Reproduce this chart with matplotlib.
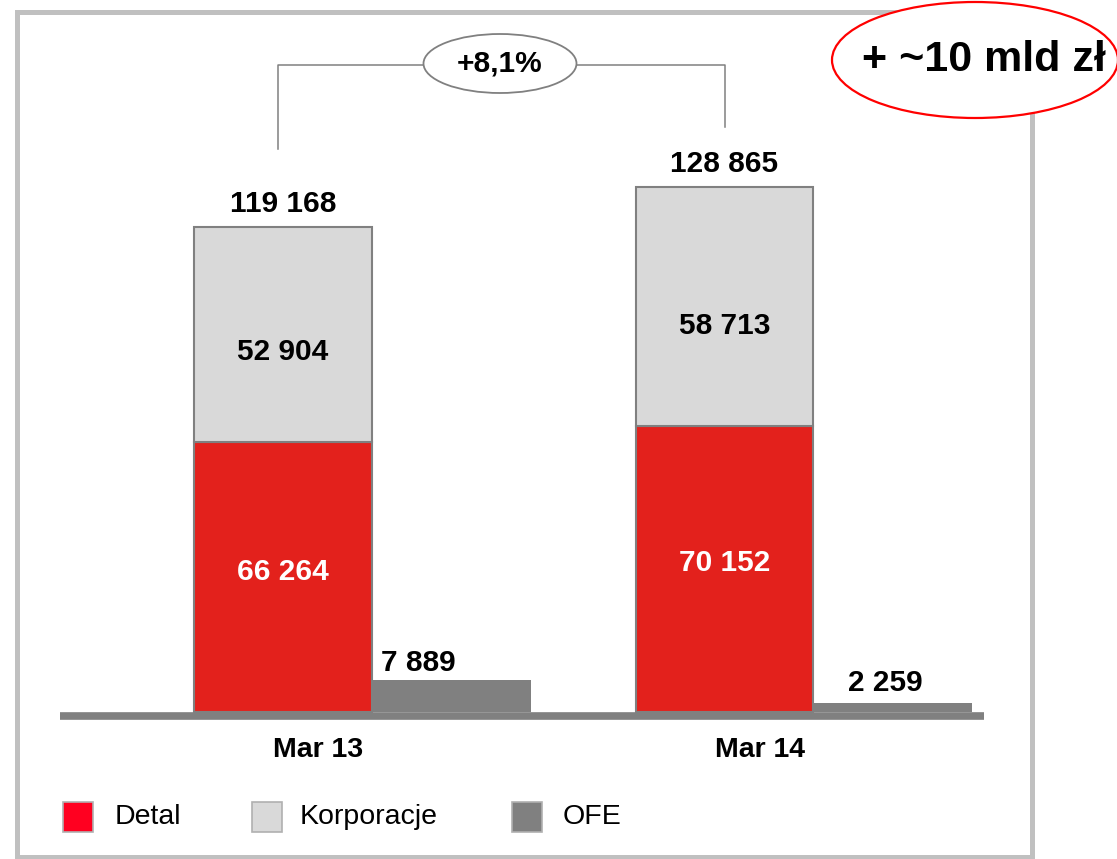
import matplotlib
matplotlib.use("Agg")
import matplotlib.pyplot as plt
from matplotlib.patches import Ellipse, Rectangle
import numpy as np

plt.rcParams['font.family'] = ['Liberation Sans', 'DejaVu Sans']

# ---- data ----
categories = ["Mar 13", "Mar 14"]
detal = [66264, 70152]
korporacje = [52904, 58713]
ofe = [7889, 2259]
totals = [119168, 128865]
series_names = ["Detal", "Korporacje", "OFE"]
growth_label = "+8,1%"
callout_label = "+ ~10 mld zł"

def fmt(v):
    return f"{v:,}".replace(",", " ")

W, H = 1117, 859
fig = plt.figure(figsize=(W / 100, H / 100), dpi=100)

# overlay axes in pixel coordinates for frame / callout / legend
ov = fig.add_axes([0, 0, 1, 1], zorder=0)
ov.set_xlim(0, W)
ov.set_ylim(H, 0)
ov.axis("off")
ov.add_patch(Rectangle((17, 11.5), 1015, 845.5, fill=False, edgecolor="#C0C0C0", lw=3.6))

# main axes
px_per_unit_x = 441.5
x0_px = 283
ax_left_px, ax_right_px = 40, 1000
ax_top_px, ax_bot_px = 12, 740
base_px = 712
px_per_val = 0.004072
ax = fig.add_axes([ax_left_px / W, (H - ax_bot_px) / H,
                   (ax_right_px - ax_left_px) / W, (ax_bot_px - ax_top_px) / H], zorder=1)
ax.set_xlim((ax_left_px - x0_px) / px_per_unit_x, (ax_right_px - x0_px) / px_per_unit_x)
ax.set_ylim(-(ax_bot_px - base_px) / px_per_val, (base_px - ax_top_px) / px_per_val)
ax.axis("off")
ax.patch.set_alpha(0)

x = np.arange(len(categories))
bw = 0.403
ow = 0.36
ofe_x = x + bw / 2 + ow / 2

red = "#E3211C"
light = "#D9D9D9"
dark = "#808080"

# baseline
bl_y = -4 / px_per_val
ax.plot([(60 - x0_px) / px_per_unit_x, (984 - x0_px) / px_per_unit_x], [bl_y, bl_y],
        color=dark, lw=5.5, solid_capstyle="butt", zorder=1)

ax.bar(x, detal, width=bw, color=red, edgecolor=dark, lw=1.5, zorder=3)
ax.bar(x, korporacje, width=bw, bottom=detal, color=light, edgecolor=dark, lw=1.5, zorder=3)
ax.bar(ofe_x, ofe, width=ow, color=dark, edgecolor="none", zorder=3)

vfs = 21.5
for i in range(len(categories)):
    ax.annotate(fmt(totals[i]), (x[i], totals[i]), xytext=(0, 16.5), textcoords="offset points",
                ha="center", va="center", fontsize=vfs, fontweight="bold", color="black")
    ax.text(x[i], detal[i] + korporacje[i] * 0.42, fmt(korporacje[i]), ha="center", va="center",
            fontsize=vfs, fontweight="bold", color="black", zorder=5)
    ax.text(x[i], detal[i] * 0.52, fmt(detal[i]), ha="center", va="center",
            fontsize=vfs, fontweight="bold", color="white", zorder=5)
    ax.annotate(categories[i], (x[i] + 0.08, 0), xytext=(0, -27.5), textcoords="offset points",
                ha="center", va="center", fontsize=20.5, fontweight="bold", color="black")

ofe_label_dx = [-33 / px_per_unit_x, -8 / px_per_unit_x]
ofe_label_dy = [12.5, 14.5]
for i in range(len(categories)):
    ax.annotate(fmt(ofe[i]), (ofe_x[i] + ofe_label_dx[i], ofe[i]), xytext=(0, ofe_label_dy[i]),
                textcoords="offset points", ha="center", va="center",
                fontsize=vfs, fontweight="bold", color="black")

# growth bracket
y_top = (base_px - 65) / px_per_val
y_l = totals[0] + 19000
y_r = totals[1] + 14800
xl = x[0] - 0.011
xr = x[1] + 0.001
ecx = 0.4915
ew = 153 / px_per_unit_x
eh = 59 / px_per_val
ax.plot([xl, xl, ecx - ew / 2], [y_l, y_top, y_top], color=dark, lw=1.1, zorder=2)
ax.plot([ecx + ew / 2, xr, xr], [y_top, y_top, y_r], color=dark, lw=1.1, zorder=2)
ax.add_patch(Ellipse((ecx, y_top + 1.5 / px_per_val), ew, eh, facecolor="white",
                     edgecolor=dark, lw=1.3, zorder=4))
ax.text(ecx, y_top + 1.5 / px_per_val, growth_label, ha="center", va="center",
        fontsize=vfs, fontweight="bold", zorder=5)

# callout (overlay, on top)
top = fig.add_axes([0, 0, 1, 1], zorder=3)
top.set_xlim(0, W)
top.set_ylim(H, 0)
top.axis("off")
top.patch.set_alpha(0)
top.add_patch(Ellipse((975, 60), 286, 116, facecolor="white", edgecolor="#FF0000", lw=1.6))
top.text(984, 60, callout_label, ha="center", va="center", fontsize=31, fontweight="bold")

# legend
leg_colors = ["#FF0020", light, dark]
sq_x = [63, 252, 512]
txt_x = [115, 300, 563]
for name, c, sx, tx in zip(series_names, leg_colors, sq_x, txt_x):
    top.add_patch(Rectangle((sx, 802), 30, 30, facecolor=c, edgecolor="#B0B0B0", lw=1.2))
    top.text(tx, 817, name, ha="left", va="center", fontsize=20.5, color="black")

fig.savefig("out.png", dpi=100)
